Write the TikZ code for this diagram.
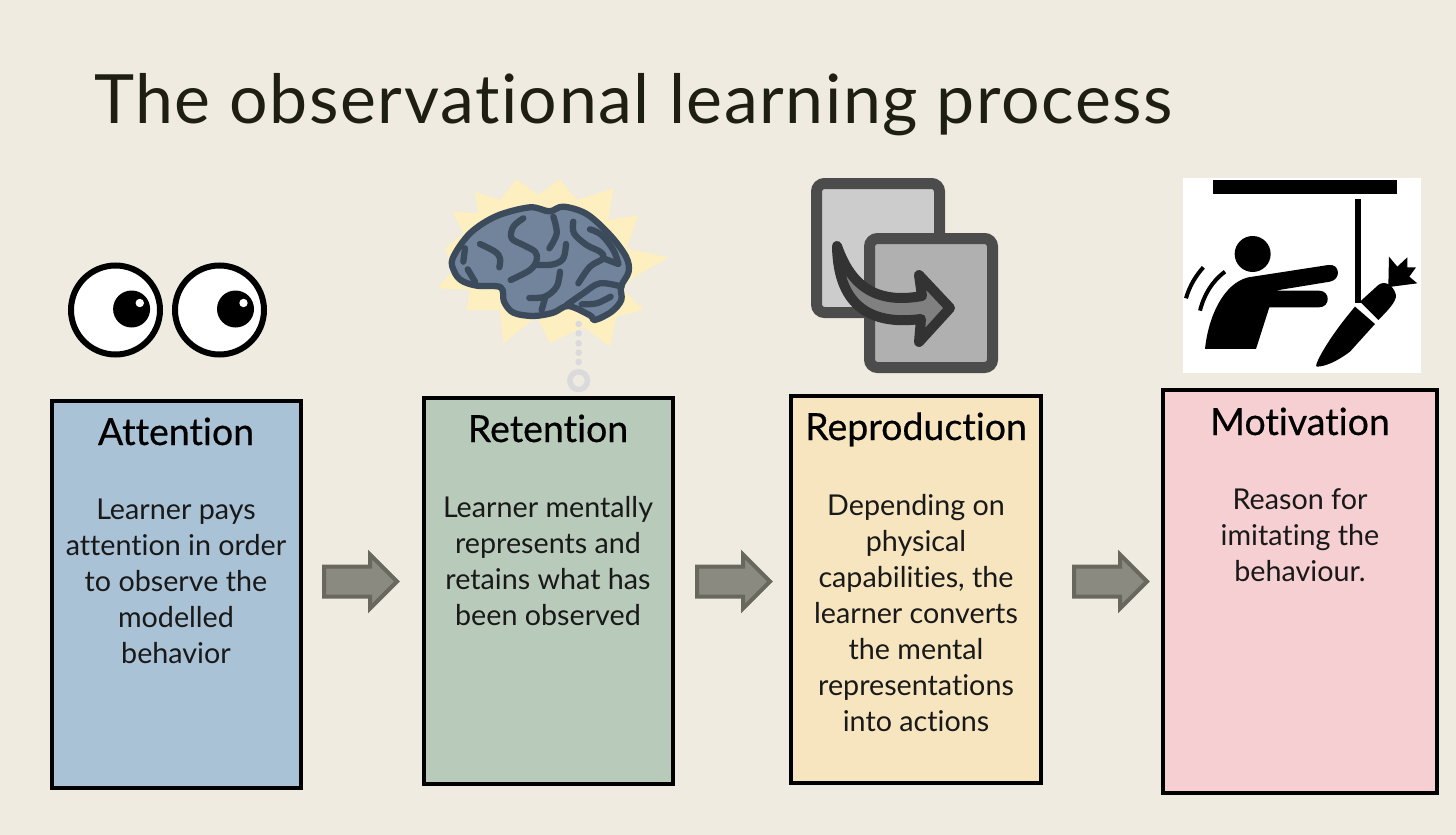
\documentclass[tikz,border=0pt]{standalone}
\usepackage{fontspec}
\setmainfont[Ligatures=NoCommon]{Lato}
\newfontfamily\spacedfont[Ligatures=NoCommon,LetterSpace=2.3]{Lato}
\newfontfamily\headfont[Ligatures=NoCommon,FakeBold=0.5]{Lato}
\usetikzlibrary{shapes.arrows}
\definecolor{paper}{HTML}{EFEBE0}
\definecolor{titleink}{HTML}{1E1E12}
\definecolor{sunyellow}{HTML}{FDEFC0}
\definecolor{brainfill}{HTML}{71849B}
\definecolor{brainline}{HTML}{3B4B5C}
\definecolor{stemgrey}{HTML}{DADADC}
\definecolor{attnblue}{HTML}{A9C2D6}
\definecolor{retgreen}{HTML}{B8CABA}
\definecolor{repyellow}{HTML}{F6E5BF}
\definecolor{motpink}{HTML}{F5CFD1}
\definecolor{arrowfill}{HTML}{8A8A80}
\definecolor{arrowline}{HTML}{68685F}
\tikzset{
  panel/.style={draw=black,line width=4pt,inner sep=0pt,outer sep=0pt},
  panelhead/.style={font=\headfont\fontsize{37.5}{40}\selectfont,anchor=base,inner sep=0pt,text=black},
  panelbody/.style={font=\fontsize{28.7}{36}\selectfont,align=center,anchor=north,inner sep=0pt,text=black!90},
  flowarrow/.style={single arrow,draw=arrowline,fill=arrowfill,line width=4pt,
    minimum height=73pt,single arrow head extend=12pt,inner sep=0pt},
  fold/.style={line width=6.3pt,draw=brainline,line cap=round,line join=round},
  sheet/.style={draw=black!70,line width=11pt,rounded corners=8pt},
  eyeball/.style={draw=black,fill=white,line width=6pt},
}
\newcommand{\shaftgauge}{\rule{0pt}{26pt}}
\begin{document}
\begin{tikzpicture}[x=1pt,y=-1pt]
\useasboundingbox (0,0) rectangle (1456,835);
\fill[paper] (0,0) rectangle (1456,835);

\node[anchor=base west,inner sep=0pt,text=titleink,font=\spacedfont\fontsize{68}{72}\selectfont] (title) at (94,123) {The observational learning process};

% Four stages
\node[panel,fill=attnblue,minimum width=249pt,minimum height=387pt] (attn) at (176.5,594.5) {};
\node[panel,fill=retgreen,minimum width=249pt,minimum height=386pt] (ret) at (548.5,591) {};
\node[panel,fill=repyellow,minimum width=250pt,minimum height=387pt] (repr) at (916,589.5) {};
\node[panel,fill=motpink,minimum width=274pt,minimum height=403pt] (motv) at (1300,591.5) {};

\node[panelhead] (attnhead) at (176,445) {Attention};
\node[panelhead] (rethead) at (548,442) {Retention};
\node[panelhead] (reprhead) at (916,440) {Reproduction};
\node[panelhead] (motvhead) at (1300,435) {Motivation};

\node[panelbody] (attnbody) at (176,499) {Learner pays\\attention in order\\to observe the\\modelled\\behavior};
\node[panelbody] (retbody) at (548,496) {Learner mentally\\represents and\\retains what has\\been observed};
\node[panelbody] (reprbody) at (916,494) {Depending on\\physical\\capabilities, the\\learner converts\\the mental\\representations\\into actions};
\node[panelbody] (motvbody) at (1300,488) {Reason for\\imitating the\\behaviour.};

% Block arrows between the stages
\node[flowarrow] (flow1) at (353,581.5) {\shaftgauge};
\node[flowarrow] (flow2) at (726,581.5) {\shaftgauge};
\node[flowarrow] (flow3) at (1103,581.5) {\shaftgauge};

% Eyes
\draw[eyeball] (115.5,310) ellipse [x radius=44.5,y radius=44.5];
\draw[eyeball] (219.5,310) ellipse [x radius=44.5,y radius=44.5];
\fill[black] (131.6,309) circle [radius=18.5];
\fill[black] (235.5,309) circle [radius=18.5];
\fill[white] (139.8,303) circle [radius=4.2];
\fill[white] (243.5,303) circle [radius=4.2];

% Brain, in a frame three times finer than the page
\begin{scope}[shift={(420,170)},x=0.3333pt,y=-0.3333pt]
  \fill[sunyellow] (290,28) -- (355,75) -- (420,28) -- (470,90) -- (580,55) -- (565,150) -- (655,135)
    -- (620,235) -- (745,262) -- (630,330) -- (610,360) -- (670,420) -- (590,440) -- (570,530)
    -- (490,470) -- (390,520) -- (350,440) -- (250,520) -- (240,420) -- (140,420) -- (150,360)
    -- (52,355) -- (100,300) -- (75,235) -- (130,190) -- (98,125) -- (175,130) -- (165,65) -- (240,90) -- cycle;
  \foreach \dotrow in {462,490,520,548,576}
    \fill[stemgrey] (476,\dotrow) circle [radius=3.3pt];
  \draw[stemgrey,line width=5.5pt] (476,632) circle [radius=8.8pt];
  \draw[fold,fill=brainfill] plot[smooth cycle,tension=.55] coordinates {
    (98,265) (150,190) (230,138) (330,112) (388,124) (430,110) (500,132) (570,195) (618,260)
    (626,305) (603,350) (604,390) (575,425) (525,450) (510,436) (445,408) (400,428) (340,438)
    (280,428) (252,395) (242,352) (170,347) (125,332) (103,305)};
  \draw[fold] plot[smooth,tension=.6] coordinates {(310,145) (280,170) (275,205) (310,225) (345,245) (350,270) (330,300) (272,330)};
  \draw[fold] plot[smooth,tension=.6] coordinates {(350,285) (400,283) (430,265) (438,222)};
  \draw[fold] plot[smooth,tension=.6] coordinates {(400,140) (410,190) (388,235)};
  \draw[fold] plot[smooth,tension=.6] coordinates {(460,155) (462,190) (500,225) (540,245) (550,265) (510,290) (475,340)};
  \draw[fold] plot[smooth,tension=.6] coordinates {(510,178) (545,195) (580,240) (595,280)};
  \draw[fold] plot[smooth,tension=.6] coordinates {(550,265) (595,282)};
  \draw[fold] plot[smooth,tension=.6] coordinates {(180,222) (225,245) (240,265) (238,292)};
  \draw[fold] plot[smooth,tension=.6] coordinates {(135,235) (130,275)};
  \draw[fold] plot[smooth,tension=.6] coordinates {(143,298) (165,335)};
  \draw[fold] plot[smooth,tension=.6] coordinates {(420,305) (410,350) (375,380) (328,384)};
  \draw[fold] (375,385) -- (365,420);
  \draw[fold] plot[smooth,tension=.6] coordinates {(440,405) (490,370) (540,340) (605,350)};
  \draw[fold] plot[smooth,tension=.6] coordinates {(485,403) (530,400) (572,380)};
\end{scope}

% Copy icon: two sheets and a curved arrow
\draw[sheet,fill=black!20] (816.5,183.5) rectangle (939.5,312.5);
\draw[sheet,fill=black!31] (869.5,238.5) rectangle (992.5,367.5);
\draw[draw=black!80,fill=black!50,line width=10pt,line join=round]
  (837,246) .. controls (848,277) and (868,306) .. (922,296)
  -- (919,275) -- (950,308) -- (919,342) -- (921,319)
  .. controls (875,325) and (838,310) .. (837,246) -- cycle;

% Carrot and stick, in a frame three times finer than the page
\begin{scope}[shift={(1170,170)},x=0.3333pt,y=-0.3333pt]
  \fill[white] (38,25) rectangle (752,608);
  \fill[black] (128,30) rectangle (682,73);
  \fill[black] (556,88) rectangle (572,400);
  \fill[black] (248,252) circle [radius=18pt];
  \fill[black] (105,537) -- (258,537) -- (298,412) -- (447,412)
    .. controls (482,412) and (482,362) .. (447,362) -- (315,362) -- (480,335)
    .. controls (515,328) and (510,280) .. (475,285) -- (235,322)
    .. controls (160,340) and (115,440) .. (105,537) -- cycle;
  \draw[black,line width=4pt] (100,292) .. controls (75,320) and (58,350) .. (48,385);
  \draw[black,line width=4pt] (165,305) .. controls (125,335) and (102,375) .. (90,422);
  \fill[black] (570,395) -- (625,345) .. controls (645,330) and (670,345) .. (678,375)
    .. controls (680,395) and (650,425) .. (625,450) -- cycle;
  \fill[black] (555,410) -- (615,462) -- (540,545) .. controls (500,575) and (465,590) .. (440,590)
    .. controls (430,590) and (470,510) .. (555,410) -- cycle;
  \fill[black] (655,350) -- (657,260) -- (682,290) -- (712,262) -- (712,292) -- (738,292)
    -- (718,320) -- (742,340) -- (665,350) -- cycle;
\end{scope}
\end{tikzpicture}
\end{document}
